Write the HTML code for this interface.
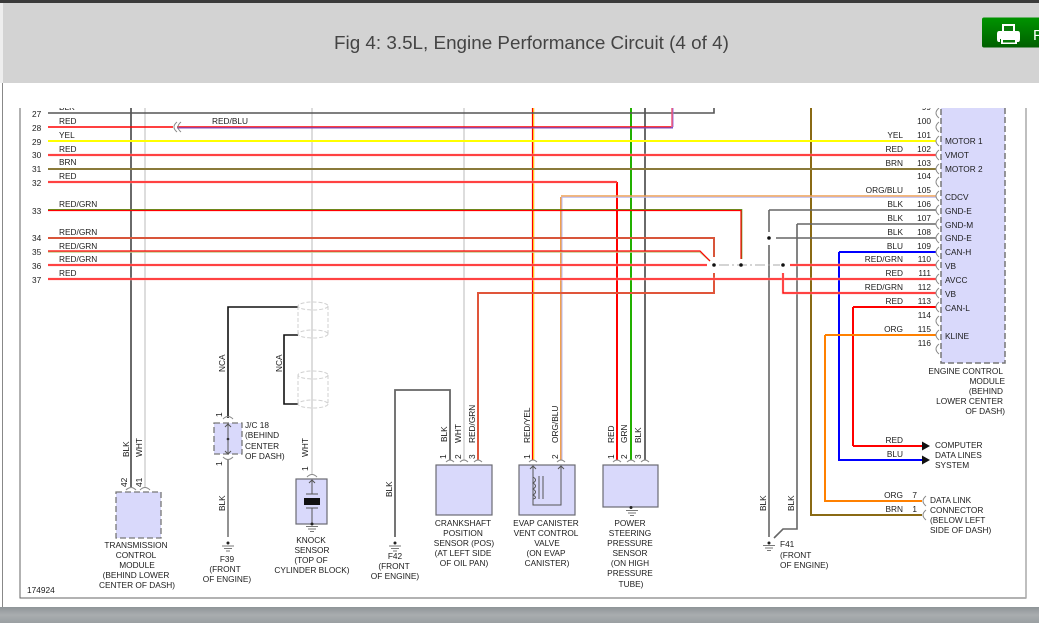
<!DOCTYPE html>
<html><head><meta charset="utf-8"><style>
html,body{margin:0;padding:0;background:#fff;width:1039px;height:623px;overflow:hidden}
svg{display:block}
text{font-family:"Liberation Sans",sans-serif;font-size:8.3px;fill:#1c1c1c}
.m{text-anchor:middle}.e{text-anchor:end}
.n{fill:none}
</style></head><body>
<svg width="1039" height="623" viewBox="0 0 1039 623" xmlns="http://www.w3.org/2000/svg">
<defs><linearGradient id="g" x1="0" y1="0" x2="0" y2="1"><stop offset="0" stop-color="#009400"/><stop offset="1" stop-color="#005f00"/></linearGradient>
<linearGradient id="b" x1="0" y1="0" x2="0" y2="1"><stop offset="0" stop-color="#8f9598"/><stop offset=".5" stop-color="#a9adaf"/><stop offset="1" stop-color="#9a9fa2"/></linearGradient></defs>
<rect width="1039" height="623" fill="#fff"/>
<!-- component fills -->
<g fill="#d9d9fb">
<rect x="941" y="104" width="64" height="259"/><rect x="116" y="492" width="45" height="46"/><rect x="214" y="423" width="28" height="31"/>
<rect x="296" y="479" width="31" height="45"/><rect x="436" y="465" width="56" height="50"/><rect x="519" y="465" width="56" height="50"/><rect x="603" y="465" width="55" height="42"/></g>
<g class="n" stroke="#6b6b73" stroke-width="1.2">
<rect x="296" y="479" width="31" height="45"/><rect x="436" y="465" width="56" height="50"/><rect x="519" y="465" width="56" height="50"/><rect x="603" y="465" width="55" height="42"/></g>
<g class="n" stroke="#777" stroke-width="1.3" stroke-dasharray="6 3">
<rect x="116" y="492" width="45" height="46"/><rect x="214" y="423" width="28" height="31"/>
<path d="M941 100V363H1005V100" stroke-width="1.5"/></g>
<!-- frame -->
<path d="M20 100V598H1026V100" class="n" stroke="#666" stroke-width="1"/>
<path d="M1026 100V598" class="n" stroke="#aaa" stroke-width="1.5"/>
<path d="M2.500 83V607" class="n" stroke="#888" stroke-width="1"/>
<!-- vertical wires -->
<g class="n" stroke-width="1.6">
<path d="M131 104V487" stroke="#6a6a6a" stroke-width="2"/>
<path d="M145 104V487" stroke="#ddd" stroke-width="2"/>
<path d="M312 104V474" stroke="#ddd" stroke-width="2"/>
<path d="M464 104V460" stroke="#ddd" stroke-width="2"/>
<path d="M533 104V460" stroke="#ff9a70" stroke-width="2.500"/><path d="M532.500 104V460" stroke="#f00" stroke-width="1"/><path d="M533.700 104V460" stroke="#ffe000" stroke-width="0.800"/>
<path d="M561 197V460" stroke="#f0a050" stroke-width="2"/><path d="M562 197V460" stroke="#b8b8f0" stroke-width="1"/>
<path d="M617 182V460" stroke="#f00" stroke-width="2"/>
<path d="M631 104V460" stroke="#22b000" stroke-width="2"/>
<path d="M645 104V460" stroke="#6a6a6a" stroke-width="2"/>
<path d="M478 460V293H714V273" stroke="#e0553a" stroke-width="2"/>
<path d="M811 104V515H922" stroke="#8a6a14" stroke-width="2"/>
<path d="M839 252V460H922" stroke="#00f" stroke-width="2"/>
<path d="M853 446V307" stroke="#f00" stroke-width="2"/><path d="M922 446H853" stroke="#f00" stroke-width="2"/>
<path d="M825 335V501H922" stroke="#ff8000" stroke-width="2"/>
<path d="M769 210V232M769 245V537" stroke="#666"/>
<path d="M797 224V529H783L774 538" stroke="#666"/>
<path d="M395 537V390H450V460" stroke="#666" stroke-width="1.800"/>
<path d="M228 418V307H298" stroke="#111" stroke-width="1.600"/>
<path d="M298 335H284V404H298" stroke="#111" stroke-width="1.600"/>
<path d="M228 459V537" stroke="#777" stroke-width="1.600"/>
</g>
<!-- horizontal wires -->
<g class="n" stroke-width="1.5">
<path d="M48 113H714V104" stroke="#555" stroke-width="1.600"/>
<path d="M48 127H173" stroke="#f00" stroke-width="1.600"/>
<path d="M177 127.500H673" stroke="#8050c0" stroke-width="2"/><path d="M177 126.800H671" stroke="#f00" stroke-width="1"/>
<path d="M672.500 104V127" stroke="#9a70e0" stroke-width="2"/><path d="M672 104V127" stroke="#f05070" stroke-width="1.400"/>
<path d="M48 141H936" stroke="#ffff00" stroke-width="2"/>
<path d="M48 155H936" stroke="#ffb0b0" stroke-width="2.500"/><path d="M48 155H936" stroke="#f00" stroke-width="1.200"/>
<path d="M48 169H936" stroke="#8a7a3a" stroke-width="2"/>
<path d="M48 182H617" stroke="#ffb0b0" stroke-width="2.500"/><path d="M48 182H617" stroke="#f00" stroke-width="1.200"/>
<path d="M561 196H936" stroke="#f0a050" stroke-width="1.500"/><path d="M562 197.200H936" stroke="#b8b8f0" stroke-width="1"/>
<path d="M48 209.800H741.500V259" stroke="#5a9a20" stroke-width="1.600"/><path d="M48 210.500H741V259" stroke="#f00" stroke-width="1.200"/>
<path d="M48 238H714V257" stroke="#d8553a" stroke-width="2"/>
<path d="M48 252H700L710 261" stroke="#c0d090" stroke-width="1.600"/><path d="M48 251H700L710 261" stroke="#f00" stroke-width="1.200"/>
<path d="M48 265H707" stroke="#ffb0b0" stroke-width="2.500"/><path d="M48 265H707" stroke="#f00" stroke-width="1.200"/>
<path d="M48 279H936" stroke="#ffb0b0" stroke-width="2.500"/><path d="M48 279H936" stroke="#f00" stroke-width="1.200"/>
<path d="M769 210H936M797 224H936M776 238H936" stroke="#666" stroke-width="1.500"/>
<path d="M839 252H936" stroke="#00f" stroke-width="2"/>
<path d="M790 265H936" stroke="#ffb0b0" stroke-width="2.500"/><path d="M790 265H936" stroke="#f00" stroke-width="1.200"/>
<path d="M783 273V293H936" stroke="#ffb0b0" stroke-width="2.400"/><path d="M783 273V293H936" stroke="#f00" stroke-width="1.200"/>
<path d="M853 307H936" stroke="#f00" stroke-width="2"/>
<path d="M825 335H936" stroke="#ff8000" stroke-width="2"/>
<path d="M719 265H780" stroke="#aaa" stroke-width="1" stroke-dasharray="10 3 2 3"/>
</g>
<g fill="#111"><circle cx="714" cy="265" r="1.800"/><circle cx="741" cy="265" r="1.800"/><circle cx="783" cy="265" r="1.800"/><circle cx="769" cy="238" r="1.800"/>
<path d="M922 441.500L930 446L922 450.500ZM922 455.500L930 460L922 464.500Z"/>
<rect x="304" y="498" width="16" height="7"/><circle cx="228" cy="439" r="1.300"/></g>
<!-- ECM pin arcs -->
<g class="n" stroke="#888" stroke-width="1">
<path d="M939 108q-6 5 0 10M939 122q-6 5 0 10M939 136q-6 5 0 10M939 150q-6 5 0 10M939 164q-6 5 0 10M939 177q-6 5 0 10M939 191q-6 5 0 10M939 205q-6 5 0 10M939 219q-6 5 0 10M939 233q-6 5 0 10M939 247q-6 5 0 10M939 260q-6 5 0 10M939 274q-6 5 0 10M939 288q-6 5 0 10M939 302q-6 5 0 10M939 316q-6 5 0 10M939 330q-6 5 0 10M939 344q-6 5 0 10"/>
<path d="M926 496q-6 5 0 10M926 510q-6 5 0 10"/>
<path d="M177 122q-6 5 0 10M181 122q-6 5 0 10"/>
<path d="M126 490q5-5 10 0M140 490q5-5 10 0M223 419q5-5 10 0M223 457q5 5 10 0M307 477q5-5 10 0"/>
<path d="M446 462q4-4 8 0M460 462q4-4 8 0M474 462q4-4 8 0M529 462q4-4 8 0M557 462q4-4 8 0M613 462q4-4 8 0M627 462q4-4 8 0M641 462q4-4 8 0"/>
</g>
<!-- shields -->
<g class="n" stroke="#d0d0d0" stroke-width="1" stroke-dasharray="4 2">
<ellipse cx="313" cy="306" rx="15" ry="4"/><ellipse cx="313" cy="334" rx="15" ry="4"/><path d="M298 306V334M328 306V334"/>
<ellipse cx="313" cy="375" rx="15" ry="4"/><ellipse cx="313" cy="404" rx="15" ry="4"/><path d="M298 375V404M328 375V404"/>
</g>
<!-- internals -->
<g class="n" stroke="#555" stroke-width="1">
<path d="M228 423V454M225 427L228 424L231 427M225 451L228 454L231 451"/>
<path d="M312 480V494M306 494H318M306 508H318M312 508V524M309 483L312 480L315 483"/>
<path d="M533 466V505H561V466M530 469L533 466L536 469M558 469L561 466L564 469"/>
<path d="M533 477q5 3 0 6q5 3 0 6q5 3 0 6q5 3 0 4M539 476V499M543 476V499"/>
</g>
<!-- grounds -->
<g stroke="#777" stroke-width="1" class="n">
<path d="M222 546H234M224 548.500H232M226 551H230"/>
<path d="M389 546H401M391 548.500H399M393 551H397"/>
<path d="M306 526.500H318M308 529H316M310 531.500H314"/>
<path d="M626 510.500H638M628 513H636M630 515.500H634"/>
<path d="M763 545.500H775M765 548H773M767 550.500H771"/>
</g>
<g fill="#222"><circle cx="228" cy="543" r="1.500"/><circle cx="395" cy="543" r="1.500"/><circle cx="312" cy="524" r="1.500"/><circle cx="631" cy="507.500" r="1.500"/><circle cx="769" cy="543" r="1.500"/></g>
<!-- left labels -->
<g>
<text x="32" y="117">27</text><text x="32" y="131">28</text><text x="32" y="145">29</text><text x="32" y="158">30</text><text x="32" y="172">31</text><text x="32" y="186">32</text><text x="32" y="214">33</text><text x="32" y="241">34</text><text x="32" y="255">35</text><text x="32" y="269">36</text><text x="32" y="283">37</text>
<text x="59" y="110">BLK</text><text x="59" y="124">RED</text><text x="59" y="138">YEL</text><text x="59" y="152">RED</text><text x="59" y="165">BRN</text><text x="59" y="179">RED</text><text x="59" y="207">RED/GRN</text><text x="59" y="235">RED/GRN</text><text x="59" y="249">RED/GRN</text><text x="59" y="262">RED/GRN</text><text x="59" y="276">RED</text>
<text x="212" y="124">RED/BLU</text>
</g>
<!-- right wire labels -->
<g class="e">
<text x="903" y="138">YEL</text><text x="903" y="152">RED</text><text x="903" y="166">BRN</text><text x="903" y="193">ORG/BLU</text><text x="903" y="207">BLK</text><text x="903" y="221">BLK</text><text x="903" y="235">BLK</text><text x="903" y="249">BLU</text><text x="903" y="262">RED/GRN</text><text x="903" y="276">RED</text><text x="903" y="290">RED/GRN</text><text x="903" y="304">RED</text><text x="903" y="332">ORG</text>
<text x="903" y="443">RED</text><text x="903" y="457">BLU</text><text x="903" y="498">ORG</text><text x="903" y="512">BRN</text>
<text x="917" y="498">7</text><text x="917" y="512">1</text>
<text x="931" y="110">99</text><text x="931" y="124">100</text><text x="931" y="138">101</text><text x="931" y="152">102</text><text x="931" y="166">103</text><text x="931" y="179">104</text><text x="931" y="193">105</text><text x="931" y="207">106</text><text x="931" y="221">107</text><text x="931" y="235">108</text><text x="931" y="249">109</text><text x="931" y="262">110</text><text x="931" y="276">111</text><text x="931" y="290">112</text><text x="931" y="304">113</text><text x="931" y="318">114</text><text x="931" y="332">115</text><text x="931" y="346">116</text>
</g>
<g>
<text x="945" y="144">MOTOR 1</text><text x="945" y="158">VMOT</text><text x="945" y="172">MOTOR 2</text><text x="945" y="200">CDCV</text><text x="945" y="214">GND-E</text><text x="945" y="228">GND-M</text><text x="945" y="241">GND-E</text><text x="945" y="255">CAN-H</text><text x="945" y="269">VB</text><text x="945" y="283">AVCC</text><text x="945" y="297">VB</text><text x="945" y="311">CAN-L</text><text x="945" y="339">KLINE</text>
<text x="935" y="448">COMPUTER</text><text x="935" y="458">DATA LINES</text><text x="935" y="468">SYSTEM</text>
<text x="930" y="503">DATA LINK</text><text x="930" y="513">CONNECTOR</text><text x="930" y="523">(BELOW LEFT</text><text x="930" y="533">SIDE OF DASH)</text>
<text x="780" y="547">F41</text><text x="780" y="558">(FRONT</text><text x="780" y="568">OF ENGINE)</text>
<text x="245" y="428">J/C 18</text><text x="245" y="438">(BEHIND</text><text x="245" y="449">CENTER</text><text x="245" y="459">OF DASH)</text>
<text x="27" y="593" font-size="8">174924</text>
</g>
<g class="e"><text x="1003" y="374">ENGINE CONTROL</text><text x="1005" y="384">MODULE</text><text x="1003" y="394">(BEHIND</text><text x="1003" y="404">LOWER CENTER</text><text x="1005" y="414">OF DASH)</text></g>
<g class="m">
<text x="136" y="548">TRANSMISSION</text><text x="136" y="558">CONTROL</text><text x="137" y="568">MODULE</text><text x="136" y="578">(BEHIND LOWER</text><text x="137" y="588">CENTER OF DASH)</text>
<text x="227" y="562">F39</text><text x="225" y="572">(FRONT</text><text x="227" y="582">OF ENGINE)</text>
<text x="311" y="543">KNOCK</text><text x="312" y="553">SENSOR</text><text x="311" y="563">(TOP OF</text><text x="312" y="573">CYLINDER BLOCK)</text>
<text x="395" y="559">F42</text><text x="394" y="569">(FRONT</text><text x="395" y="579">OF ENGINE)</text>
<text x="463" y="526">CRANKSHAFT</text><text x="463" y="536">POSITION</text><text x="464" y="546">SENSOR (POS)</text><text x="463" y="556">(AT LEFT SIDE</text><text x="464" y="566">OF OIL PAN)</text>
<text x="546" y="526">EVAP CANISTER</text><text x="546" y="536">VENT CONTROL</text><text x="547" y="546">VALVE</text><text x="546" y="556">(ON EVAP</text><text x="547" y="566">CANISTER)</text>
<text x="630" y="526">POWER</text><text x="630" y="536">STEERING</text><text x="630" y="546">PRESSURE</text><text x="630" y="556">SENSOR</text><text x="630" y="566">(ON HIGH</text><text x="630" y="576">PRESSURE</text><text x="631" y="587">TUBE)</text>
</g>
<!-- rotated labels -->
<g>
<text transform="translate(129,457) rotate(-90)">BLK</text><text transform="translate(142,457) rotate(-90)">WHT</text>
<text transform="translate(127,487) rotate(-90)">42</text><text transform="translate(142,487) rotate(-90)">41</text>
<text transform="translate(225,372) rotate(-90)">NCA</text><text transform="translate(282,372) rotate(-90)">NCA</text>
<text transform="translate(222,417) rotate(-90)">1</text><text transform="translate(222,466) rotate(-90)">1</text>
<text transform="translate(225,511) rotate(-90)">BLK</text>
<text transform="translate(308,457) rotate(-90)">WHT</text><text transform="translate(308,471) rotate(-90)">1</text>
<text transform="translate(392,497) rotate(-90)">BLK</text>
<text transform="translate(447,442) rotate(-90)">BLK</text><text transform="translate(461,443) rotate(-90)">WHT</text><text transform="translate(475,443) rotate(-90)">RED/GRN</text>
<text transform="translate(446,459) rotate(-90)">1</text><text transform="translate(461,459) rotate(-90)">2</text><text transform="translate(475,459) rotate(-90)">3</text>
<text transform="translate(530,443) rotate(-90)">RED/YEL</text><text transform="translate(558,443) rotate(-90)">ORG/BLU</text>
<text transform="translate(530,459) rotate(-90)">1</text><text transform="translate(558,459) rotate(-90)">2</text>
<text transform="translate(614,443) rotate(-90)">RED</text><text transform="translate(627,443) rotate(-90)">GRN</text><text transform="translate(641,443) rotate(-90)">BLK</text>
<text transform="translate(614,459) rotate(-90)">1</text><text transform="translate(627,459) rotate(-90)">2</text><text transform="translate(641,459) rotate(-90)">3</text>
<text transform="translate(766,511) rotate(-90)">BLK</text><text transform="translate(794,511) rotate(-90)">BLK</text>
</g>
<!-- page chrome -->
<rect x="3" y="83" width="1036" height="25" fill="#fff"/>
<rect x="3" y="3" width="1036" height="80" fill="#d3d3d3"/>
<rect width="1039" height="3" fill="#3a3a3a"/>
<rect y="3" width="3" height="80" fill="#eee"/>
<text x="334" y="49" style="font-size:18.850px;fill:#444">Fig 4: 3.5L, Engine Performance Circuit (4 of 4)</text>
<rect x="982" y="17.500" width="60" height="30" rx="2" fill="url(#g)"/>
<g fill="#fff"><rect x="1002" y="24" width="13" height="8"/><path d="M999 31h19q2 0 2 3v5q0 3-2 3h-1v-3h-17v3h-1q-2 0-2-3v-5q0-3 2-3z"/><rect x="1001" y="38" width="16" height="6"/></g>
<rect x="1004" y="26" width="9" height="5" fill="#0a7a0a"/>
<rect x="1003" y="40" width="12" height="2.500" fill="#0a7a0a"/>
<text x="1033" y="40" style="font-size:15px;fill:#fff">P</text>
<rect y="607" width="1039" height="16" fill="url(#b)"/>
</svg>
</body></html>
